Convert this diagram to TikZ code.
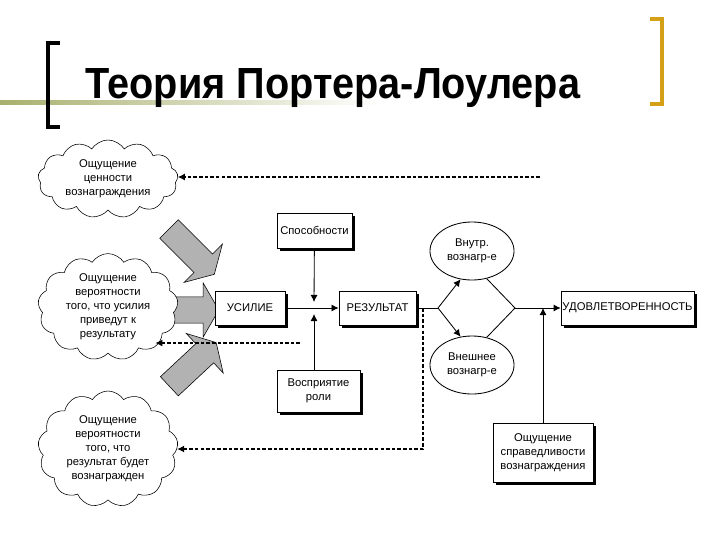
\documentclass[tikz,border=0pt]{standalone}
\usepackage{fontspec}
\setmainfont{Liberation Sans}
\usetikzlibrary{shapes.symbols,shapes.arrows,shapes.geometric,shadows,arrows.meta,calc}

\definecolor{bracketgold}{RGB}{212,160,23}
\definecolor{barolive}{RGB}{168,176,110}

\begin{document}
\begin{tikzpicture}[
    x=0.025cm, y=0.025cm,
    every node/.style={font=\fontsize{8}{10}\selectfont},
    unit/.style={
        draw,
        semithick,
        fill=white,
        align=center,
        inner sep=1pt,
        drop shadow={shadow xshift=2pt, shadow yshift=-2pt, opacity=1, fill=black}
    },
    puff/.style={
        cloud,
        draw,
        fill=white,
        align=center,
        cloud puffs=13,
        cloud puff arc=115,
        cloud ignores aspect,
        inner sep=0pt,
        minimum width=3.5cm
    },
    oval/.style={
        ellipse,
        draw,
        semithick,
        fill=white,
        align=center,
        inner sep=0pt,
        minimum width=2.1cm,
        minimum height=1.45cm
    },
    grayarr/.style={
        single arrow,
        draw,
        fill=black!30,
        inner xsep=0pt,
        inner ysep=0.32cm,
        single arrow head extend=0.35cm,
        single arrow tip angle=120
    },
    arr/.style={-{Latex[length=5pt, width=5pt]}, semithick},
    darr/.style={-{Latex[length=5pt, width=5pt]}, dash pattern=on 2.5pt off 1.5pt, line width=0.9pt}
]
    \useasboundingbox (0,0) rectangle (720,-540);

    % Title
    \shade[left color=barolive, right color=white] (0,-100) rectangle (380,-104);
    \draw[line width=3.5pt] (60,-43) -- (48,-43) -- (48,-127) -- (60,-127);
    \draw[bracketgold, line width=3.5pt] (650,-19) -- (662,-19) -- (662,-104) -- (650,-104);
    \node[anchor=base west, inner sep=0pt, font=\bfseries\fontsize{31}{31}\selectfont] (title)
        at (85,-98) {\scalebox{0.91}[1]{Теория Портера-Лоулера}};

    % Gray arrows
    \node[grayarr, minimum height=1.6cm, rotate=-45] (ga1) at (189,-249) {};
    \node[grayarr, minimum height=1.15cm] (ga2) at (192,-310) {};
    \node[grayarr, minimum height=1.6cm, rotate=43] (ga3) at (190,-367) {};

    % Clouds
    \node[puff, minimum height=1.95cm] (value) at (108,-179)
        {Ощущение\\ценности\\вознаграждения};
    \node[puff, minimum height=2.55cm] (effortprob) at (108,-307)
        {Ощущение\\вероятности\\того, что усилия\\приведут к\\результату};
    \node[puff, minimum height=2.9cm] (rewardprob) at (108,-449)
        {Ощущение\\вероятности\\того, что\\результат будет\\вознагражден};

    % Boxes
    \node[unit, minimum width=1.875cm, minimum height=0.875cm] (ability) at (314.5,-230.5) {Способности};
    \node[unit, minimum width=1.75cm, minimum height=0.85cm] (effort) at (250,-308) {УСИЛИЕ};
    \node[unit, minimum width=1.925cm, minimum height=0.85cm] (result) at (377.5,-308) {РЕЗУЛЬТАТ};
    \node[unit, minimum width=2.075cm, minimum height=1.05cm] (role) at (318.5,-391) {Восприятие\\роли};
    \node[unit, minimum width=3.275cm, minimum height=0.85cm] (satisfaction) at (627.5,-308) {УДОВЛЕТВОРЕННОСТЬ};
    \node[unit, minimum width=2.5cm, minimum height=1.475cm] (fairness) at (543,-452.5)
        {Ощущение\\справедливости\\вознаграждения};

    % Rewards
    \node[oval] (intrinsic) at (472,-251) {Внутр.\\вознагр-е};
    \node[oval] (extrinsic) at (472,-365) {Внешнее\\вознагр-е};

    \coordinate (cross) at (314,-308);
    \coordinate (split) at (438,-308);
    \coordinate (merge) at (515,-308);
    \coordinate (back) at (423,-308);
    \coordinate (valueline) at (540,-177);
    \coordinate (probline) at (300,-343);

    % Arrows
    \draw[arr] (effort.east) -- (result.west);
    \draw[arr] (ability) -- ($(cross)+(0,6)$);
    \draw[arr] (role.north -| cross) -- ($(cross)+(0,-6)$);
    \draw[semithick] (result.east) -- (split);
    \draw[arr] (split) -- (intrinsic.-112);
    \draw[arr] (split) -- (extrinsic.112);
    \draw[semithick] (intrinsic.-62) -- (merge);
    \draw[semithick] (extrinsic.62) -- (merge);
    \draw[arr] (merge) -- (satisfaction.west);
    \draw[arr] (fairness.north) -- (fairness.north |- merge);

    % Feedback
    \draw[darr] (valueline) -- (valueline -| value.east);
    \draw[darr] (probline) -- (probline -| effortprob.-40);
    \draw[darr] (back) |- (rewardprob.east);

\end{tikzpicture}
\end{document}
